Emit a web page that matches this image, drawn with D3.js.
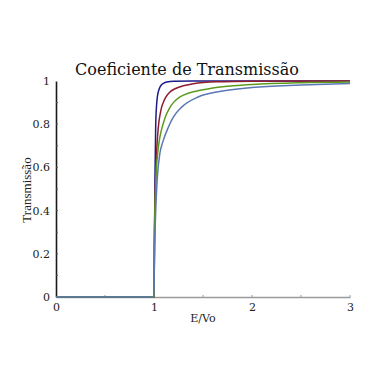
<!DOCTYPE html>
<html>
<head>
<meta charset="utf-8">
<script src="https://cdn.jsdelivr.net/npm/d3@7"></script>
<style>
body{margin:0;background:#fff;}
text{font-family:"DejaVu Serif",serif;}
</style>
</head>
<body>
<div id="chart"></div>
<script>
// values: E/Vo and transmission for each curve
var navyE =[0,1,1.004,1.01,1.017,1.025,1.034,1.045,1.061,1.08,1.1,1.13,1.2,1.4,2,3];
var navyT =[0,0,0.2,0.553,0.786,0.88,0.926,0.952,0.972,0.984,0.99,0.995,0.999,1,1,1];
var redE  =[0,1,1.005,1.017,1.03,1.044,1.06,1.078,1.1,1.122,1.16,1.214,1.3,1.4,1.64,2,3];
var redT  =[0,0,0.3,0.553,0.7,0.786,0.84,0.879,0.906,0.926,0.948,0.964,0.978,0.987,0.996,0.999,1];
var greenE=[0,1,1.005,1.02,1.04,1.06,1.089,1.12,1.163,1.2,1.265,1.35,1.47,1.6,1.81,2,2.5,3];
var greenT=[0,0,0.28,0.553,0.675,0.74,0.795,0.838,0.878,0.901,0.926,0.943,0.957,0.968,0.978,0.984,0.992,0.995];
var blueE =[0,1,1.005,1.01,1.02,1.034,1.06,1.09,1.146,1.197,1.282,1.45,1.64,2,2.5,3];
var blueT =[0,0,0.22,0.3,0.43,0.553,0.665,0.718,0.786,0.833,0.879,0.926,0.949,0.97,0.981,0.988];
var xTicks=[0,1,2,3];
var yTicks=[0,0.2,0.4,0.6,0.8,1];

var series=[
	{e:navyE,t:navyT,color:'#1c1c8a'},
	{e:redE,t:redT,color:'#8e1b2e'},
	{e:greenE,t:greenT,color:'#5c9a1e'},
	{e:blueE,t:blueT,color:'#5b78b4'}
];

var W=382,H=382;
var margin={top:81,right:32,bottom:85,left:56};
var width=W-margin.left-margin.right;
var height=H-margin.top-margin.bottom;

var svg=d3.select('#chart')
		.append('svg')
		.attr('width',W)
		.attr('height',H);

var g=svg.append('g')
		.attr('transform','translate('+margin.left+','+margin.top+')');

var x=d3.scaleLinear().domain([0,3]).range([0,width]);
var y=d3.scaleLinear().domain([0,1]).range([height,0]);

// x axis (gray)
var xAxis=d3.axisBottom(x).tickValues(xTicks).tickSize(0).tickPadding(6).tickFormat(d3.format('d'));
var gx=g.append('g').attr('transform','translate(0,'+height+')').call(xAxis);
gx.select('.domain').attr('stroke','#9a9a9a').attr('stroke-width',1.5);
gx.selectAll('text').attr('font-size',11).attr('fill','#222');
//minor ticks on x
g.selectAll('.xminor')
	.data([0.5,1.5,2,2.5,3])
	.enter()
	.append('line')
	.attr('x1',function(d){return x(d)})
	.attr('x2',function(d){return x(d)})
	.attr('y1',height)
	.attr('y2',height-2)
	.attr('stroke','#9a9a9a');

// y axis (dark)
var yAxis=d3.axisLeft(y).tickValues(yTicks).tickSize(0).tickPadding(6).tickFormat(function(d){return d===0||d===1?d3.format('d')(d):d3.format('.1f')(d)});
var gy=g.append('g').call(yAxis);
gy.select('.domain').attr('stroke','#1a1a1a').attr('stroke-width',1.6);
gy.selectAll('text').attr('font-size',11).attr('fill','#222');
g.selectAll('.yminor')
	.data(d3.range(1,10).map(function(i){return i/10}))
	.enter()
	.append('line')
	.attr('x1',0)
	.attr('x2',2)
	.attr('y1',function(d){return y(d)})
	.attr('y2',function(d){return y(d)})
	.attr('stroke','#555');

var line=d3.line()
		.x(function(d){return x(d[0])})
		.y(function(d){return y(d[1])})
		.curve(d3.curveMonotoneX);

series.forEach(function(s){
	g.append('path')
		.datum(s.e.map(function(e,i){return [e,s.t[i]]}))
		.attr('d',line)
		.attr('fill','none')
		.attr('stroke',s.color)
		.attr('stroke-width',1.5);
});

// title and labels
svg.append('text')
	.attr('x',187)
	.attr('y',75)
	.attr('text-anchor','middle')
	.attr('font-size',16)
	.attr('fill','#111')
	.text('Coeficiente de Transmissão');

svg.append('text')
	.attr('x',203)
	.attr('y',322)
	.attr('text-anchor','middle')
	.attr('font-size',11)
	.attr('fill','#222')
	.text('E/Vo');

svg.append('text')
	.attr('transform','translate(31,190) rotate(-90)')
	.attr('text-anchor','middle')
	.attr('font-size',13)
	.style('font-family','"Liberation Serif",serif')
	.attr('fill','#222')
	.text('Transmissão');
</script>
</body>
</html>
